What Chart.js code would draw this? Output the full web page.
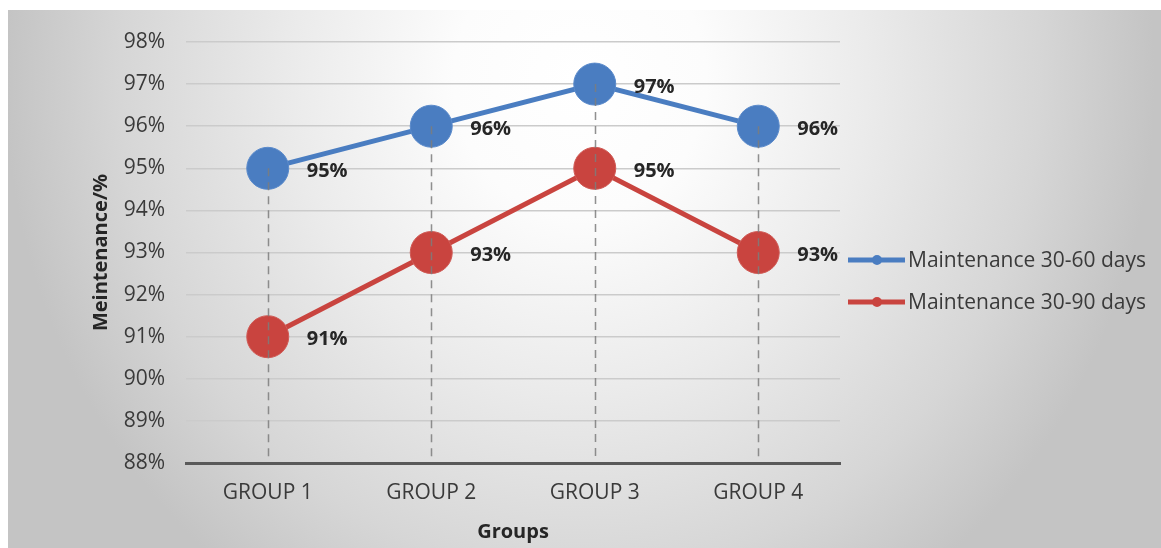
<!DOCTYPE html>
<html>
<head>
<meta charset="utf-8">
<script src="https://cdn.jsdelivr.net/npm/chart.js@4/dist/chart.umd.min.js"></script>
<style>
  html, body { margin: 0; padding: 0; background: #ffffff; overflow: hidden; }
  canvas { display: block; }
</style>
</head>
<body>
<canvas id="c" width="1161" height="548"></canvas>
<script>
const categories = ['GROUP 1', 'GROUP 2', 'GROUP 3', 'GROUP 4'];
const series60 = [95, 96, 97, 96];
const series90 = [91, 93, 95, 93];
const seriesNames = ['Maintenance 30-60 days', 'Maintenance 30-90 days'];
const yMin = 88, yMax = 98, yStep = 1;

const BLUE = '#4a7dc1';
const RED = '#c9443f';
const FONT = '"Open Sans", "DejaVu Sans", sans-serif';

const bgPlugin = {
  id: 'bg',
  beforeDraw(chart) {
    const ctx = chart.ctx;
    ctx.save();
    ctx.fillStyle = '#ffffff';
    ctx.fillRect(0, 0, chart.width, chart.height);
    const cx = 580, cy = 80, rx = 575, ry = 620;
    const k = ry / rx;
    ctx.beginPath();
    ctx.rect(8, 10, chart.width, chart.height);
    ctx.clip();
    ctx.translate(cx, cy);
    ctx.scale(1, k);
    const g = ctx.createRadialGradient(0, 0, 0, 0, 0, rx);
    g.addColorStop(0, '#ffffff');
    g.addColorStop(0.22, '#fcfcfc');
    g.addColorStop(0.5, '#ebebeb');
    g.addColorStop(0.8, '#d6d6d6');
    g.addColorStop(1, '#c4c4c4');
    ctx.fillStyle = g;
    ctx.fillRect(-2000, -2000, 4000, 4000);
    ctx.restore();
  }
};

const overlayPlugin = {
  id: 'overlay',
  afterDatasetsDraw(chart) {
    const ctx = chart.ctx;
    const ys = chart.scales.y, xs = chart.scales.x;
    ctx.save();
    // drop lines
    ctx.strokeStyle = 'rgba(125,125,125,0.85)';
    ctx.lineWidth = 1.5;
    ctx.setLineDash([8, 6]);
    categories.forEach((c, i) => {
      const maxV = Math.max(...chart.data.datasets.map(d => d.data[i]));
      const x = Math.round(xs.getPixelForValue(i)) + 0.5;
      ctx.beginPath();
      ctx.moveTo(x, ys.getPixelForValue(maxV));
      ctx.lineTo(x, ys.bottom - 2);
      ctx.stroke();
    });
    ctx.setLineDash([]);
    // data labels
    ctx.font = 'bold 20px ' + FONT;
    ctx.fillStyle = '#262626';
    ctx.textAlign = 'left';
    ctx.textBaseline = 'middle';
    chart.data.datasets.forEach(ds => {
      ds.data.forEach((v, i) => {
        const x = xs.getPixelForValue(i);
        const y = ys.getPixelForValue(v);
        ctx.fillText(v + '%', x + 39, y + 3);
      });
    });
    ctx.restore();
  },
  afterDraw(chart) {
    const ctx = chart.ctx;
    ctx.save();
    const rows = [260, 302];
    chart.data.datasets.forEach((ds, i) => {
      const y = rows[i];
      ctx.strokeStyle = ds.borderColor;
      ctx.lineWidth = 5;
      ctx.beginPath();
      ctx.moveTo(848, y);
      ctx.lineTo(905, y);
      ctx.stroke();
      ctx.fillStyle = ds.backgroundColor;
      ctx.beginPath();
      ctx.arc(877, y, 5, 0, Math.PI * 2);
      ctx.fill();
      ctx.font = '21px ' + FONT;
      ctx.fillStyle = '#3a3a3a';
      ctx.textAlign = 'left';
      ctx.textBaseline = 'middle';
      ctx.fillText(ds.label, 908, y + 1);
    });
    ctx.restore();
  }
};

new Chart(document.getElementById('c'), {
  type: 'line',
  data: {
    labels: categories,
    datasets: [
      {
        label: seriesNames[0],
        data: series60,
        borderColor: BLUE,
        backgroundColor: BLUE,
        borderWidth: 5,
        pointRadius: 21,
        pointHoverRadius: 21,
        pointBackgroundColor: BLUE,
        pointBorderColor: '#5a8acb',
        pointBorderWidth: 1,
        tension: 0
      },
      {
        label: seriesNames[1],
        data: series90,
        borderColor: RED,
        backgroundColor: RED,
        borderWidth: 5,
        pointRadius: 21,
        pointHoverRadius: 21,
        pointBackgroundColor: RED,
        pointBorderColor: '#d05a55',
        pointBorderWidth: 1,
        tension: 0
      }
    ]
  },
  options: {
    responsive: false,
    animation: false,
    devicePixelRatio: 1,
    layout: { padding: { left: 80, right: 321, top: 42, bottom: 0 } },
    plugins: {
      legend: { display: false },
      tooltip: { enabled: false }
    },
    scales: {
      x: {
        type: 'category',
        offset: true,
        grid: { display: false, drawTicks: false },
        border: { display: true, color: '#595959', width: 3 },
        ticks: { color: '#3a3a3a', font: { family: FONT, size: 21 }, padding: 17, maxRotation: 0 },
        title: { display: true, text: 'Groups', color: '#262626', font: { family: FONT, size: 20, weight: 'bold' }, padding: { top: 0, bottom: 4 } },
        afterFit(scale) { scale.height = 85; }
      },
      y: {
        min: yMin,
        max: yMax,
        grid: { color: '#cbcbcb', lineWidth: 1.5, drawTicks: false },
        border: { display: false },
        ticks: {
          stepSize: yStep,
          color: '#3a3a3a',
          font: { family: FONT, size: 21 },
          padding: 21,
          callback: v => v + '%'
        },
        title: { display: true, text: 'Meintenance/%', color: '#262626', font: { family: FONT, size: 20, weight: 'bold' }, padding: { top: 9, bottom: 0 } },
        afterFit(scale) { scale.width = 106; }
      }
    }
  },
  plugins: [bgPlugin, overlayPlugin]
});
</script>
</body>
</html>
